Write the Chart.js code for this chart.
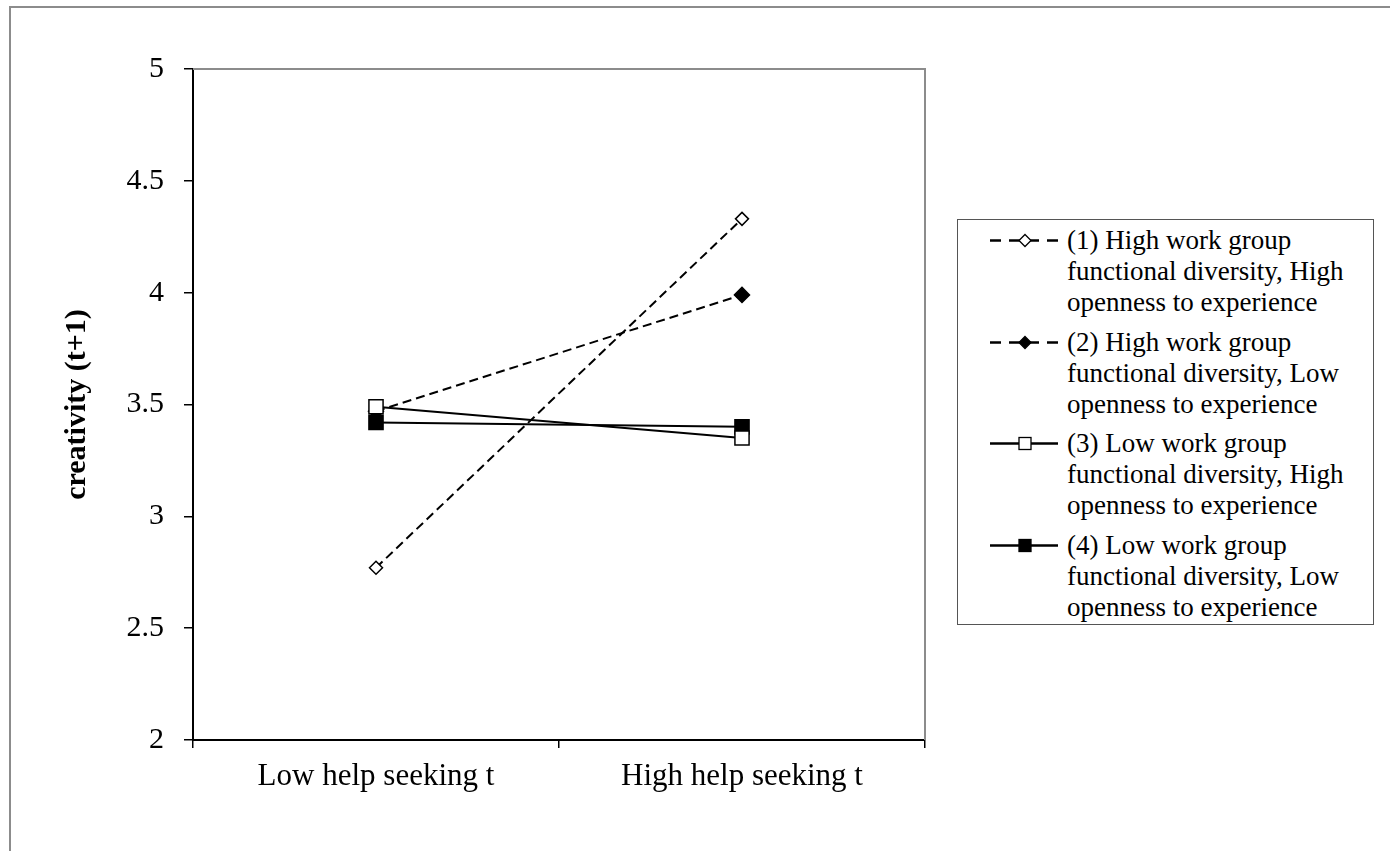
<!DOCTYPE html>
<html lang="en">
<head>
    <meta charset="UTF-8">
    <title>creativity (t+1)</title>
    <style>
        body { margin: 0; background: #fff; }
        #wrap { position: relative; width: 1390px; height: 851px; overflow: hidden; }
        #frame {
            position: absolute; left: 9px; top: 6px; width: 1500px; height: 1000px;
            border-left: 2px solid #8c8c8c; border-top: 2px solid #8c8c8c;
        }
        #chart { position: absolute; left: 0; top: 0; }
        #legend {
            position: absolute; left: 957px; top: 219px; width: 417px; height: 406px;
            box-sizing: border-box; border: 1px solid #555; background: #fff;
            padding: 5px 0 0 32px;
            font-family: 'Liberation Serif', 'Times New Roman', serif;
            font-size: 27px; line-height: 31px; color: #000;
        }
        .item { display: flex; margin-bottom: 8.7px; white-space: nowrap; }
        .item svg { flex: none; margin-right: 7px; }
    </style>
</head>
<body>
<div id="wrap">
    <div id="frame"></div>
    <canvas id="chart" width="1390" height="851"></canvas>
    <div id="legend"></div>
</div>

<script src="https://cdn.jsdelivr.net/npm/chart.js"></script>
<script>
    // data
    const categories = ['Low help seeking t', 'High help seeking t'];
    const yTickLabels = ['2', '2.5', '3', '3.5', '4', '4.5', '5'];
    const series1 = [2.77, 4.33];
    const series2 = [3.47, 3.99];
    const series3 = [3.49, 3.35];
    const series4 = [3.42, 3.40];
    const seriesNames = [
        ['(1) High work group', 'functional diversity, High', 'openness to experience'],
        ['(2) High work group', 'functional diversity, Low', 'openness to experience'],
        ['(3) Low work group', 'functional diversity, High', 'openness to experience'],
        ['(4) Low work group', 'functional diversity, Low', 'openness to experience']
    ];

    // look of each series (order: lower number is drawn on top)
    const looks = [
        { dash: [9, 5], point: 'rectRot', fill: '#fff', radius: 6.5, order: 2 },
        { dash: [9, 5], point: 'rectRot', fill: '#000', radius: 7.5, order: 3 },
        { dash: [], point: 'rect', fill: '#fff', radius: 10, order: 0 },
        { dash: [], point: 'rect', fill: '#000', radius: 10, order: 1 }
    ];

    const FONT = "'Liberation Serif', 'Times New Roman', serif";
    const allSeries = [series1, series2, series3, series4];

    const datasets = allSeries.map((values, i) => ({
        label: seriesNames[i].join(' '),
        data: values,
        order: looks[i].order,
        borderColor: '#000',
        borderWidth: 2,
        borderDash: looks[i].dash,
        pointStyle: looks[i].point,
        pointRadius: looks[i].radius,
        pointHoverRadius: looks[i].radius,
        pointBackgroundColor: looks[i].fill,
        pointBorderColor: '#000',
        pointBorderWidth: 1.5,
        fill: false,
        tension: 0
    }));

    // grey top and right edges of the plot box
    const plotFrame = {
        id: 'plotFrame',
        beforeDatasetsDraw(chart) {
            const { ctx, chartArea: a } = chart;
            ctx.save();
            ctx.strokeStyle = '#8c8c8c';
            ctx.lineWidth = 2;
            ctx.beginPath();
            ctx.moveTo(a.left, a.top);
            ctx.lineTo(a.right, a.top);
            ctx.lineTo(a.right, a.bottom);
            ctx.stroke();
            ctx.restore();
        }
    };

    new Chart(document.getElementById('chart'), {
        type: 'line',
        data: { labels: categories, datasets: datasets },
        options: {
            responsive: false,
            animation: false,
            devicePixelRatio: 1,
            events: [],
            layout: { padding: { left: 0, top: 69, right: 465, bottom: 0 } },
            plugins: { legend: { display: false }, tooltip: { enabled: false } },
            scales: {
                x: {
                    offset: true,
                    grid: { offset: true, drawOnChartArea: false, drawTicks: true, tickLength: 8, color: '#000', lineWidth: 1.5 },
                    border: { color: '#000', width: 2 },
                    ticks: { color: '#000', padding: 10, font: { family: FONT, size: 31 } },
                    afterFit(s) { s.height = 111; }
                },
                y: {
                    min: 2,
                    max: 5,
                    grid: { drawOnChartArea: false, drawTicks: true, tickLength: 9, color: '#000', lineWidth: 1.5 },
                    border: { color: '#000', width: 2 },
                    ticks: {
                        stepSize: 0.5,
                        color: '#000',
                        padding: 20,
                        font: { family: FONT, size: 30 },
                        callback: (v, i) => yTickLabels[i]
                    },
                    title: {
                        display: true,
                        text: 'creativity (t+1)',
                        color: '#000',
                        font: { family: FONT, size: 30, weight: 'bold' },
                        padding: { top: 59, bottom: 0 }
                    },
                    afterFit(s) { s.width = 193; }
                }
            }
        },
        plugins: [plotFrame]
    });

    // html legend with line samples
    function sampleSvg(look) {
        const dash = look.dash.length ? 'stroke-dasharray="11 8"' : '';
        let marker;
        if (look.point === 'rectRot') {
            marker = '<polygon points="35,9.5 41,15.5 35,21.5 29,15.5" fill="' + look.fill + '" stroke="#000" stroke-width="1.3"/>';
        } else {
            marker = '<rect x="29" y="9.5" width="12" height="12" fill="' + look.fill + '" stroke="#000" stroke-width="1.3"/>';
        }
        return '<svg width="70" height="31" viewBox="0 0 70 31">' +
            '<line x1="0" y1="15.5" x2="68" y2="15.5" stroke="#000" stroke-width="2.5" ' + dash + '/>' +
            marker + '</svg>';
    }

    const legend = document.getElementById('legend');
    seriesNames.forEach((lines, i) => {
        const item = document.createElement('div');
        item.className = 'item';
        item.innerHTML = sampleSvg(looks[i]) + '<div>' + lines.join('<br>') + '</div>';
        legend.appendChild(item);
    });
</script>
</body>
</html>
